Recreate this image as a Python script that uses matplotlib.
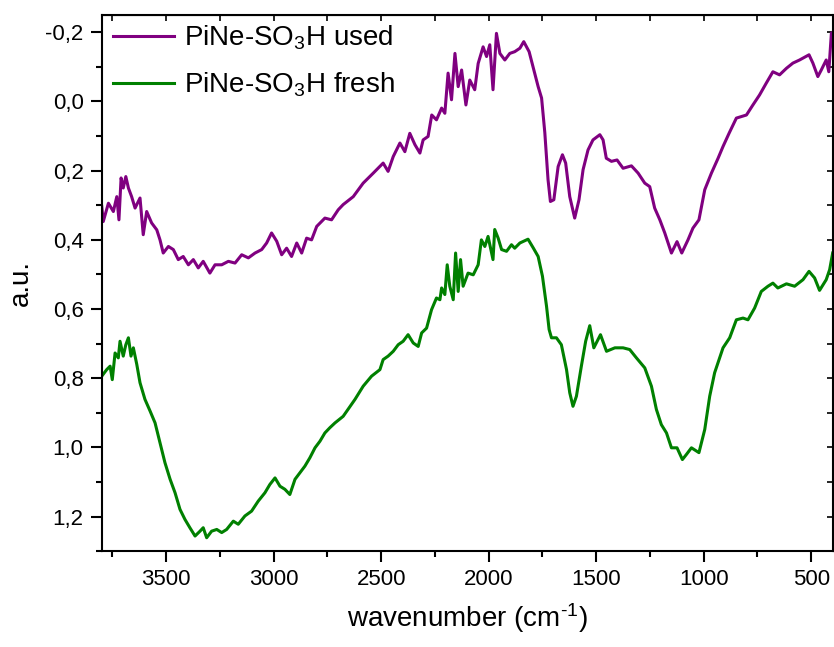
"""
FTIR spectra of PiNe-SO3H, used vs fresh
"""

from matplotlib import pyplot as plt
from matplotlib.ticker import MultipleLocator, FuncFormatter
import numpy as np

plt.rcParams['font.family'] = ['Liberation Sans', 'DejaVu Sans']
plt.rcParams['mathtext.fontset'] = 'custom'
plt.rcParams['mathtext.rm'] = 'Liberation Sans'
plt.rcParams['mathtext.it'] = 'Liberation Sans:italic'
plt.rcParams['mathtext.bf'] = 'Liberation Sans:bold'

# used sample (wavenumber, a.u.)
used_wn = [3800, 3793, 3769, 3746, 3730, 3720, 3710, 3700, 3688, 3676, 3661, 3645,
           3622, 3607, 3591, 3568, 3544, 3529, 3514, 3490, 3467, 3444, 3421, 3397,
           3374, 3351, 3328, 3297, 3273, 3242, 3211, 3180, 3149, 3118, 3087, 3056,
           3033, 3010, 2986, 2963, 2940, 2917, 2893, 2870, 2847, 2824, 2800, 2762,
           2731, 2700, 2677, 2630, 2584, 2537, 2491, 2468, 2444, 2413, 2390, 2367,
           2343, 2320, 2305, 2282, 2265, 2243, 2219, 2204, 2189, 2173, 2157, 2142,
           2126, 2106, 2088, 2065, 2049, 2026, 2010, 1995, 1980, 1964, 1948, 1925,
           1902, 1879, 1855, 1837, 1812, 1790, 1770, 1754, 1739, 1724, 1713, 1697,
           1677, 1657, 1642, 1623, 1600, 1580, 1561, 1538, 1515, 1483, 1468, 1453,
           1429, 1403, 1375, 1336, 1305, 1274, 1251, 1228, 1204, 1181, 1150, 1124,
           1102, 1073, 1050, 1022, 995, 964, 933, 910, 882, 848, 801, 771,
           740, 709, 678, 647, 615, 585, 554, 510, 492, 469, 453, 430,
           418, 406, 400]
used_abs = [0.303, 0.347, 0.294, 0.318, 0.275, 0.342, 0.221, 0.250, 0.217, 0.250, 0.275, 0.308,
            0.279, 0.385, 0.318, 0.351, 0.371, 0.400, 0.438, 0.419, 0.428, 0.457, 0.448, 0.472,
            0.457, 0.481, 0.462, 0.496, 0.472, 0.472, 0.462, 0.467, 0.443, 0.452, 0.438, 0.428,
            0.409, 0.380, 0.404, 0.443, 0.424, 0.448, 0.409, 0.438, 0.395, 0.400, 0.361, 0.337,
            0.342, 0.313, 0.298, 0.275, 0.236, 0.207, 0.178, 0.202, 0.159, 0.120, 0.145, 0.092,
            0.125, 0.149, 0.111, 0.101, 0.039, 0.053, 0.019, 0.034, -0.082, -0.005, -0.139, -0.043,
            -0.091, 0.010, -0.062, -0.034, -0.110, -0.158, -0.130, -0.164, -0.034, -0.197, -0.139, -0.120,
            -0.139, -0.144, -0.154, -0.173, -0.144, -0.091, -0.043, -0.010, 0.090, 0.226, 0.289, 0.284,
            0.188, 0.154, 0.178, 0.275, 0.337, 0.284, 0.197, 0.140, 0.111, 0.096, 0.111, 0.164,
            0.173, 0.169, 0.193, 0.186, 0.207, 0.236, 0.246, 0.308, 0.342, 0.380, 0.438, 0.405,
            0.438, 0.400, 0.366, 0.342, 0.255, 0.207, 0.164, 0.130, 0.092, 0.048, 0.039, 0.010,
            -0.019, -0.053, -0.086, -0.077, -0.096, -0.111, -0.120, -0.135, -0.111, -0.072, -0.091, -0.120,
            -0.086, -0.197, -0.200]

# fresh sample
fresh_wn = [3800, 3777, 3761, 3751, 3738, 3723, 3715, 3700, 3688, 3676, 3664, 3653,
            3637, 3622, 3599, 3575, 3552, 3529, 3506, 3482, 3459, 3436, 3413, 3390,
            3366, 3343, 3328, 3312, 3289, 3265, 3242, 3219, 3188, 3165, 3134, 3103,
            3072, 3041, 3018, 2994, 2971, 2948, 2925, 2901, 2878, 2855, 2832, 2808,
            2785, 2762, 2739, 2715, 2677, 2622, 2584, 2545, 2506, 2491, 2468, 2444,
            2421, 2398, 2375, 2351, 2328, 2312, 2289, 2266, 2243, 2227, 2219, 2204,
            2193, 2181, 2165, 2154, 2142, 2131, 2119, 2096, 2072, 2049, 2034, 2018,
            2003, 1980, 1972, 1956, 1940, 1917, 1894, 1879, 1855, 1817, 1793, 1770,
            1750, 1731, 1719, 1708, 1685, 1662, 1638, 1623, 1608, 1592, 1569, 1549,
            1530, 1511, 1480, 1452, 1413, 1375, 1344, 1313, 1274, 1243, 1220, 1197,
            1173, 1150, 1124, 1099, 1080, 1057, 1022, 995, 972, 949, 910, 879,
            848, 817, 794, 763, 732, 701, 678, 655, 615, 577, 538, 510,
            484, 461, 430, 414, 400]
fresh_abs = [0.794, 0.775, 0.765, 0.804, 0.727, 0.741, 0.693, 0.736, 0.703, 0.683, 0.736, 0.712,
             0.760, 0.813, 0.861, 0.895, 0.929, 0.986, 1.044, 1.092, 1.131, 1.179, 1.208, 1.232,
             1.256, 1.242, 1.232, 1.261, 1.242, 1.237, 1.246, 1.237, 1.213, 1.222, 1.198, 1.184,
             1.155, 1.131, 1.107, 1.088, 1.112, 1.121, 1.136, 1.092, 1.073, 1.054, 1.030, 1.001,
             0.982, 0.958, 0.943, 0.929, 0.910, 0.861, 0.823, 0.794, 0.775, 0.746, 0.736, 0.722,
             0.703, 0.693, 0.674, 0.698, 0.708, 0.669, 0.655, 0.602, 0.568, 0.573, 0.539, 0.558,
             0.472, 0.534, 0.573, 0.438, 0.549, 0.457, 0.534, 0.496, 0.501, 0.472, 0.400, 0.419,
             0.390, 0.457, 0.370, 0.395, 0.428, 0.433, 0.414, 0.424, 0.409, 0.398, 0.423, 0.448,
             0.505, 0.592, 0.659, 0.683, 0.683, 0.703, 0.775, 0.842, 0.881, 0.852, 0.765, 0.693,
             0.648, 0.712, 0.674, 0.722, 0.712, 0.712, 0.717, 0.741, 0.770, 0.823, 0.890, 0.934,
             0.958, 1.001, 1.001, 1.035, 1.020, 1.001, 1.015, 0.948, 0.852, 0.784, 0.712, 0.683,
             0.631, 0.626, 0.631, 0.597, 0.549, 0.534, 0.525, 0.539, 0.527, 0.534, 0.515, 0.491,
             0.510, 0.546, 0.515, 0.486, 0.438]

labels = ['PiNe-SO$_3$H used', 'PiNe-SO$_3$H fresh']
colors = ['#800080', '#008000']

fig = plt.figure(figsize=[8.34, 6.47], dpi=100)
ax = fig.add_axes([0.122, 0.148, 0.8764, 0.8288])

ax.plot(used_wn, used_abs, color=colors[0], lw=2.2, label=labels[0])
ax.plot(fresh_wn, fresh_abs, color=colors[1], lw=2.2, label=labels[1])

ax.set_xlim(3800, 400)
ax.set_ylim(1.3, -0.25)

ax.xaxis.set_major_locator(MultipleLocator(500))
ax.xaxis.set_minor_locator(MultipleLocator(250))
ax.yaxis.set_major_locator(MultipleLocator(0.2))
ax.yaxis.set_minor_locator(MultipleLocator(0.1))
ax.yaxis.set_major_formatter(FuncFormatter(lambda v, p: ('%.1f' % v).replace('.', ',').replace('-0,0', '0,0')))

ax.tick_params(which='major', direction='out', length=8, width=1.5, labelsize=16, pad=5)
ax.tick_params(which='minor', direction='out', length=4, width=1.5)
for s in ax.spines.values():
    s.set_linewidth(1.5)

# inward ticks on top and right
top = ax.secondary_xaxis('top')
top.xaxis.set_major_locator(MultipleLocator(250))
top.tick_params(direction='in', length=4, width=1.2, labeltop=False)
right = ax.secondary_yaxis('right')
right.yaxis.set_major_locator(MultipleLocator(0.1))
right.tick_params(direction='in', length=4, width=1.2, labelright=False)

ax.set_xlabel('wavenumber (cm$^{\\text{-1}}$)', fontsize=20, labelpad=8)
ax.set_ylabel('a.u.', fontsize=20, labelpad=8)

ax.legend(loc='upper left', frameon=False, fontsize=20, handlelength=2.2,
          handletextpad=0.35, labelspacing=0.68, borderaxespad=0.0,
          bbox_to_anchor=(0.0, 1.005))

plt.savefig('out.png', dpi=100)
